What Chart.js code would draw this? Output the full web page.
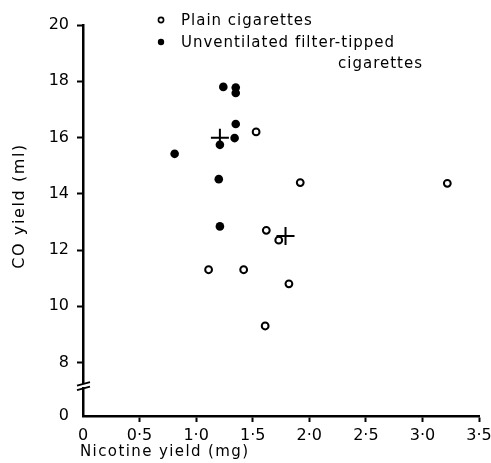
<!DOCTYPE html>
<html>
<head>
<meta charset="utf-8">
<script src="https://cdn.jsdelivr.net/npm/chart.js@4"></script>
<style>
  html, body { margin: 0; padding: 0; background: #fff; }
  #wrap { width: 491px; height: 463px; position: relative; }
</style>
</head>
<body>
<div id="wrap"><canvas id="canvas"></canvas></div>
<script>
/* Plain cigarettes (open circles). */
const plainNicotine = [1.53, 1.92, 1.62, 1.73, 1.11, 1.42, 1.82, 1.61, 3.22]
const plainCO = [16.2, 14.4, 12.7, 12.35, 11.3, 11.3, 10.8, 9.3, 14.37]

/* Unventilated filter-tipped cigarettes (filled circles). */
const filterNicotine = [1.24, 1.35, 1.35, 1.35, 1.34, 1.21, 0.81, 1.2, 1.21]
const filterCO = [17.8, 17.78, 17.58, 16.48, 15.98, 15.74, 15.42, 14.52, 12.84]

/* Group means (crosses). */
const meanNicotine = [1.21, 1.79]
const meanCO = [15.99, 12.5]

/* Tick values and labels. */
const xTicks = [0, 0.5, 1, 1.5, 2, 2.5, 3, 3.5]
const xLabels = ["0", "0·5", "1·0", "1·5", "2·0", "2·5", "3·0", "3·5"]
const yTicks = [6.1, 8, 10, 12, 14, 16, 18, 20]
const yLabels = ["0", "8", "10", "12", "14", "16", "18", "20"]

const legendLines = ["Plain cigarettes", "Unventilated filter-tipped", "cigarettes"]
const yTitle = "CO yield (ml)"
const xTitle = "Nicotine yield (mg)"

const FONT = "'DejaVu Sans', sans-serif"

const toPoints = (xs, ys) => xs.map((x, i) => ({ x, y: ys[i] }))

/* Legend, axis break and axis titles. */
const extras = {
  id: "extras",
  afterDraw(chart) {
    const ctx = chart.ctx
    const area = chart.chartArea
    const yScale = chart.scales.y
    ctx.save()

    /* Axis break between 0 and 8. */
    const yb = yScale.getPixelForValue(7.2)
    ctx.fillStyle = "#fff"
    ctx.fillRect(area.left - 3, yb - 1, 6, 3)
    ctx.strokeStyle = "#000"
    ctx.lineWidth = 1.8
    ctx.beginPath()
    ctx.moveTo(area.left - 6, yb + 0.5)
    ctx.lineTo(area.left + 7, yb - 3)
    ctx.moveTo(area.left - 6, yb + 5)
    ctx.lineTo(area.left + 7, yb + 1.5)
    ctx.stroke()

    ctx.fillStyle = "#000"
    ctx.textBaseline = "middle"

    /* X title. */
    ctx.font = "15px " + FONT
    ctx.letterSpacing = "1.4px"
    ctx.textAlign = "left"
    ctx.fillText(xTitle, 80, 452)

    /* Legend. */
    ctx.letterSpacing = "1px"
    ctx.fillText(legendLines[0], 181, 21)
    ctx.fillText(legendLines[1], 181, 43)
    ctx.fillText(legendLines[2], 338, 64)

    ctx.lineWidth = 1.6
    ctx.beginPath()
    ctx.arc(161, 20, 2.6, 0, Math.PI * 2)
    ctx.stroke()
    ctx.beginPath()
    ctx.arc(161, 42, 3.2, 0, Math.PI * 2)
    ctx.fill()

    /* Y title. */
    ctx.font = "16px " + FONT
    ctx.letterSpacing = "1.6px"
    ctx.textAlign = "center"
    ctx.translate(20, 206)
    ctx.rotate(-Math.PI / 2)
    ctx.fillText(yTitle, 0, 0)

    ctx.restore()
  }
}

const ctx = document.getElementById("canvas").getContext("2d")
const chart = new Chart(ctx, {
  type: "scatter",
  data: {
    datasets: [{
      label: legendLines[0],
      data: toPoints(plainNicotine, plainCO),
      pointStyle: "circle",
      pointRadius: 3.4,
      borderWidth: 2,
      borderColor: "#000",
      backgroundColor: "#fff"
    }, {
      label: legendLines[1] + " " + legendLines[2],
      data: toPoints(filterNicotine, filterCO),
      pointStyle: "circle",
      pointRadius: 4.3,
      borderWidth: 0,
      borderColor: "#000",
      backgroundColor: "#000"
    }, {
      label: "Mean",
      data: toPoints(meanNicotine, meanCO),
      pointStyle: "cross",
      pointRadius: 9,
      borderWidth: 2,
      borderColor: "#000"
    }]
  },
  options: {
    responsive: true,
    maintainAspectRatio: false,
    animation: false,
    layout: {
      autoPadding: false,
      padding: { top: 25, right: 12, left: 0, bottom: 0 }
    },
    plugins: {
      legend: { display: false },
      tooltip: { enabled: false }
    },
    scales: {
      x: {
        type: "linear",
        min: 0,
        max: 3.5,
        afterBuildTicks: scale => {
          scale.ticks = xTicks.map(value => ({ value }))
        },
        afterFit: scale => {
          scale.height = 47
          scale.paddingLeft = 0
          scale.paddingRight = 0
        },
        ticks: {
          color: "#000",
          padding: 4,
          maxRotation: 0,
          font: { family: FONT, size: 16 },
          callback: (value, index) => xLabels[index]
        },
        grid: {
          drawOnChartArea: false,
          tickLength: 6,
          tickWidth: 2,
          tickColor: c => c.index === 0 ? "rgba(0,0,0,0)" : "#000"
        },
        border: { color: "#000", width: 2.5 }
      },
      y: {
        type: "linear",
        min: 6.1,
        max: 20,
        afterBuildTicks: scale => {
          scale.ticks = yTicks.map(value => ({ value }))
        },
        afterFit: scale => {
          scale.width = 83
          scale.paddingTop = 0
          scale.paddingBottom = 0
        },
        ticks: {
          color: "#000",
          padding: 8,
          font: { family: FONT, size: 16 },
          callback: (value, index) => yLabels[index]
        },
        grid: {
          drawOnChartArea: false,
          tickLength: 6,
          tickWidth: 2,
          tickColor: c => c.index === 0 ? "rgba(0,0,0,0)" : "#000"
        },
        border: { color: "#000", width: 2.5 }
      }
    }
  },
  plugins: [extras]
})
</script>
</body>
</html>
